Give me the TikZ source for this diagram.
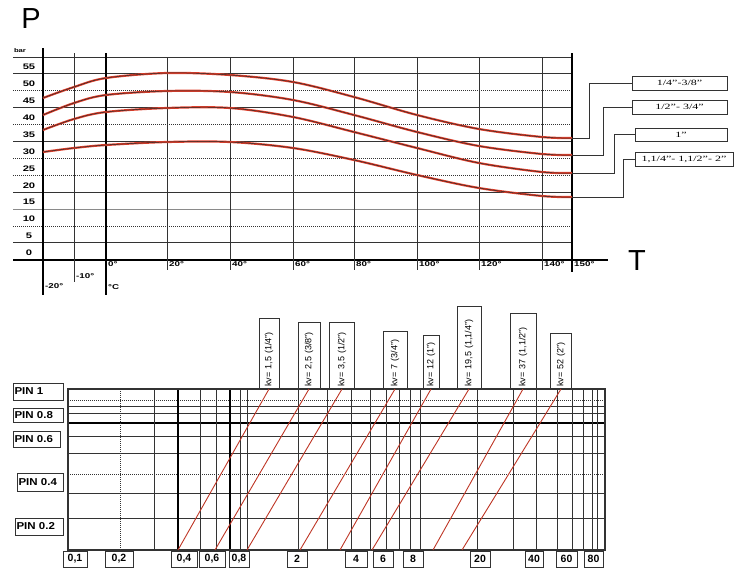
\documentclass[tikz,border=0pt]{standalone}
\usepackage{fontspec}
\setmainfont{Liberation Sans}
\newfontfamily\widesans[FakeStretch=1.4]{Liberation Sans}
\newfontfamily\pinsans[FakeStretch=1.15]{Liberation Sans}
\newfontfamily\wideserif[FakeStretch=1.5]{Liberation Serif}
\usetikzlibrary{positioning,calc}
\definecolor{gridgray}{HTML}{333333}
\definecolor{lightgray}{HTML}{8A8A8A}
\definecolor{curvered}{HTML}{E0402C}
\tikzstyle{gridline}  =[draw=gridgray,line width=1pt]
\tikzstyle{dotline}   =[draw=gridgray,line width=1pt,dash pattern=on 1.2pt off 0.8pt]
\tikzstyle{lightline} =[draw=lightgray,line width=1pt]
\tikzstyle{midline}   =[draw=black,line width=1.3pt]
\tikzstyle{axisline}  =[draw=black,line width=1.6pt]
\tikzstyle{bigletter} =[inner sep=0pt,font=\fontsize{29}{30}\selectfont]
\tikzstyle{ylab}      =[inner sep=0pt,font=\widesans\bfseries\fontsize{8}{9}\selectfont]
\tikzstyle{tlab}      =[inner sep=0pt,font=\widesans\bfseries\fontsize{7}{8}\selectfont]
\tikzstyle{sizebox}   =[draw=gridgray,line width=0.8pt,rectangle,inner sep=0pt,font=\wideserif\fontsize{8}{9}\selectfont]
\tikzstyle{leader}    =[draw=gridgray,line width=0.8pt]
\tikzstyle{pinbox}    =[draw=gridgray,line width=0.9pt,rectangle,inner xsep=1.5pt,inner ysep=0pt,align=left,font=\pinsans\bfseries\fontsize{10}{11}\selectfont]
\tikzstyle{valbox}    =[draw=gridgray,line width=0.9pt,rectangle,inner sep=0pt,font=\bfseries\fontsize{10.5}{11}\selectfont]
\tikzstyle{kvbox}     =[draw=gridgray,line width=0.8pt,rectangle,rotate=90,anchor=west,inner xsep=2pt,inner ysep=0pt,align=left,font=\fontsize{9}{10}\selectfont]
\tikzstyle{kvline}    =[draw=curvered!85!black,line width=0.9pt]
\tikzstyle{curve}     =[draw=curvered,line width=2.2pt]
\tikzstyle{core}      =[draw=black!85,line width=0.5pt]

\begin{document}
\begin{tikzpicture}[x=1pt,y=-1pt]
\useasboundingbox (0,0) rectangle (735,571);

% pressure / temperature chart
\node[bigletter] (P) at (31,19) {P};
\node[tlab,font=\widesans\bfseries\fontsize{5.5}{6}\selectfont] (bar) at (20,51) {bar};
\foreach \k/\s in {0/gridline,1/gridline,2/dotline,3/gridline,4/dotline,5/gridline,
                   6/dotline,7/dotline,8/gridline,9/lightline,10/dotline,11/gridline}
  \draw[\s] (13,{57+16.9*\k}) -- (572,{57+16.9*\k});
\draw[axisline] (13,260) -- (608,260);
\foreach \v [count=\k] in {55,50,...,0}
  \node[ylab] (y\v) at (29,{67+16.9*(\k-1)}) {\v};

\foreach \x in {167,230,293,354,417,479,542}
  \draw[gridline] (\x,57) -- (\x,270);
\draw[gridline] (74,53) -- (74,282);
\draw[midline] (106,53) -- (106,295);
\draw[axisline] (43,48) -- (43,295);
\draw[axisline] (572,53) -- (572,272);

\foreach \x/\t in {106/0,167/20,230/40,293/60,354/80,417/100,479/120,542/140,572/150}
  \node[tlab,anchor=west] (t\t) at ({\x+2},264) {\t°};
\node[tlab,anchor=west] (tm10) at (76,276) {-10°};
\node[tlab,anchor=west] (tm20) at (45,286) {-20°};
\node[tlab,anchor=west] (tC) at (108,287) {°C};
\node[bigletter] (T) at (637,261) {T};

\foreach \s in {curve,core} {
  \draw[\s] plot[smooth,tension=0.55] coordinates {(43,98) (74,87) (106,78) (167,73) (230,75)
    (293,82) (354,97) (417,115) (479,129) (542,137) (572,138)};
  \draw[\s] plot[smooth,tension=0.55] coordinates {(43,115) (74,103) (106,95) (167,91) (230,92)
    (293,100) (354,115) (417,132) (479,146) (542,154) (572,155)};
  \draw[\s] plot[smooth,tension=0.55] coordinates {(43,130) (74,119) (106,112) (167,108) (230,108)
    (293,117) (354,132) (417,148) (479,163) (542,172) (572,173)};
  \draw[\s] plot[smooth,tension=0.55] coordinates {(43,152) (74,148) (106,145) (167,142) (230,142)
    (293,148) (354,160) (417,175) (479,188) (542,196) (572,197)};
}
\coordinate (endA) at (572,138);
\coordinate (endB) at (572,155);
\coordinate (endC) at (572,173);
\coordinate (endD) at (572,197);

\node[sizebox,minimum width=95pt,minimum height=14pt] (sizeA) at (679.5,83) {1/4”-3/8”};
\node[sizebox,minimum width=95pt,minimum height=14pt] (sizeB) at (679.5,107) {1/2”- 3/4”};
\node[sizebox,minimum width=92pt,minimum height=13pt] (sizeC) at (681,134.5) {1”};
\node[sizebox,minimum width=98pt,minimum height=14pt] (sizeD) at (684,159) {1,1/4”- 1,1/2”- 2”};
\draw[leader] (endA) -- ++(17,0) |- (sizeA.west);
\draw[leader] (endB) -- ++(31,0) |- (sizeB.west);
\draw[leader] (endC) -- ++(42,0) |- (sizeC.west);
\draw[leader] (endD) -- ++(51,0) |- (sizeD.west);

% pin / kv chart
\foreach \y/\s in {400/dotline,406/gridline,413/gridline,436/gridline,453/gridline,
                   474/dotline,493/gridline,518/gridline}
  \draw[\s] (68,\y) -- (605,\y);
\draw[axisline,line width=1.4pt] (68,423) -- (605,423);
\draw[dotline] (120,389) -- (120,550);
\foreach \x in {154,200,216,240,247,298,327,351,370,386,399,410,420,477,513,536,557,572,583,592,597}
  \draw[gridline] (\x,389) -- (\x,550);
\draw[axisline,line width=1.4pt] (178,389) -- (178,550);
\draw[axisline,line width=1.4pt] (230,389) -- (230,550);
\draw[gridline,line width=1.2pt] (68,389) rectangle (605,550);

\node[pinbox,text width=47pt,minimum height=17pt] (pin1) at (38,391.5) {PIN 1};
\node[pinbox,text width=47pt,minimum height=14pt] (pin08) at (38,415) {PIN 0.8};
\node[pinbox,text width=44pt,minimum height=16pt] (pin06) at (36.5,439) {PIN 0.6};
\node[pinbox,text width=43pt,minimum height=18pt] (pin04) at (40,482) {PIN 0.4};
\node[pinbox,text width=45pt,minimum height=17pt] (pin02) at (39,526.5) {PIN 0.2};

\foreach \a/\b/\t [count=\i] in {63/87/{0,1},105/133/{0,2},171/197/{0,4},199/225/{0,6},229/249/{0,8},
    287/307/2,345/367/4,373/393/6,403/423/8,470/490/20,525/543/40,556/577/60,584/603/80}
  \node[valbox,minimum width={(\b-\a)*1pt},minimum height=16pt] (val\i) at ({(\a+\b)/2},559) {\t};

\node[kvbox,text width=66pt,minimum height=20pt] (kv15) at (269,389) {kv= 1,5 (1/4”)};
\node[kvbox,text width=62pt,minimum height=22pt] (kv25) at (309,389) {kv= 2,5 (3/8”)};
\node[kvbox,text width=62pt,minimum height=25pt] (kv35) at (342,389) {kv= 3,5 (1/2”)};
\node[kvbox,text width=53pt,minimum height=24pt] (kv7) at (395,389) {kv= 7 (3/4”)};
\node[kvbox,text width=49pt,minimum height=16pt] (kv12) at (431,389) {kv= 12 (1”)};
\node[kvbox,text width=78pt,minimum height=24pt] (kv195) at (469,389) {kv= 19,5 (1,1/4”)};
\node[kvbox,text width=71pt,minimum height=26pt] (kv37) at (523,389) {kv= 37 (1,1/2”)};
\node[kvbox,text width=51pt,minimum height=21pt] (kv52) at (561,389) {kv= 52 (2”)};

\foreach \x/\n in {178/kv15,215/kv25,247/kv35,300/kv7,340/kv12,372/kv195,433/kv37,462/kv52} {
  \coordinate (b\n) at (\x,550);
  \draw[kvline] (b\n) -- (\n.west);
}
\end{tikzpicture}
\end{document}
